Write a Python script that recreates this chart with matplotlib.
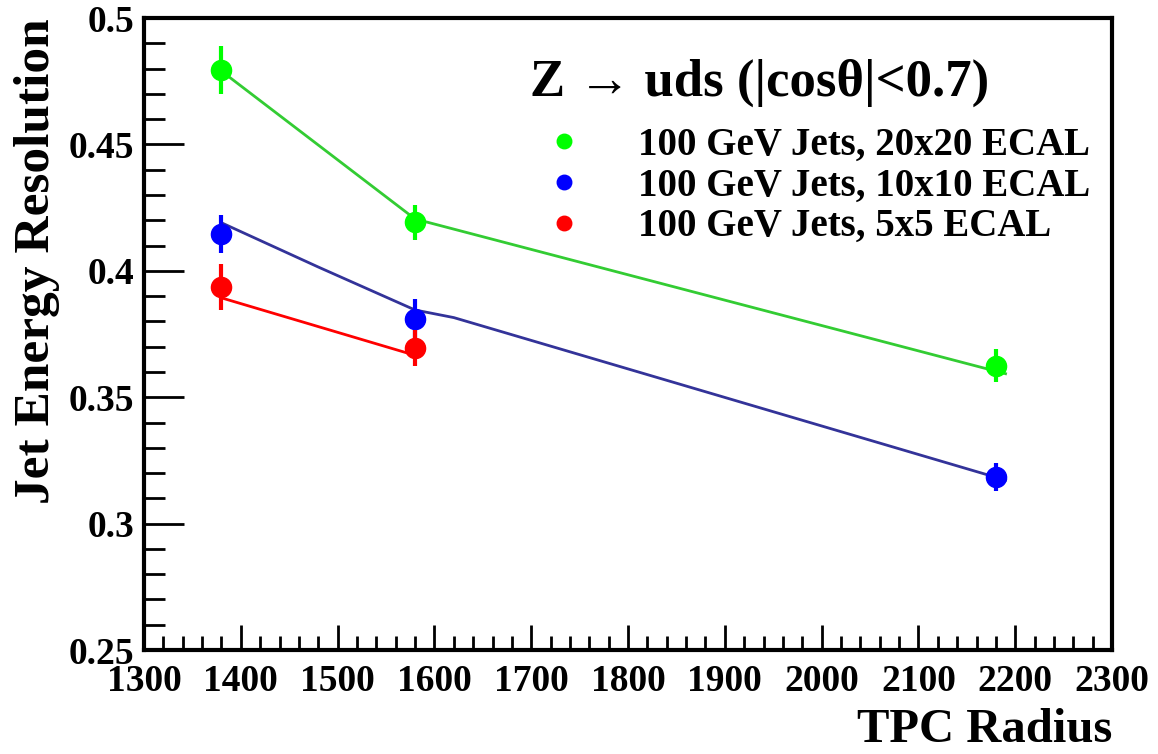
import matplotlib
matplotlib.use("Agg")
import matplotlib.pyplot as plt
from matplotlib.ticker import MultipleLocator

plt.rcParams['font.family'] = ['Liberation Serif', 'DejaVu Serif']
plt.rcParams['font.weight'] = 'bold'

# TPC radius of each measurement
radius_20 = [1380, 1580, 2180]
radius_10 = [1380, 1580, 2180]
radius_5 = [1380, 1580]

# jet energy resolution and errors
res_20 = [0.4795, 0.4192, 0.3624]
err_20 = [0.0095, 0.0070, 0.0065]
res_10 = [0.4146, 0.3810, 0.3185]
err_10 = [0.0075, 0.0080, 0.0055]
res_5 = [0.3937, 0.3695]
err_5 = [0.0090, 0.0070]

# fit curves
fit_x_20 = [1380, 1580, 1600, 2190]
fit_y_20 = [0.4790, 0.4205, 0.4185, 0.3593]
fit_x_10 = [1380, 1480, 1580, 1620, 2190]
fit_y_10 = [0.4190, 0.4015, 0.3845, 0.3815, 0.3172]
fit_x_5 = [1380, 1578]
fit_y_5 = [0.3893, 0.3668]

labels = ["100 GeV Jets, 20x20 ECAL", "100 GeV Jets, 10x10 ECAL", "100 GeV Jets, 5x5 ECAL"]
xticks = [1300, 1400, 1500, 1600, 1700, 1800, 1900, 2000, 2100, 2200, 2300]
yticks = [0.25, 0.3, 0.35, 0.4, 0.45, 0.5]

fig = plt.figure(figsize=(11.58, 7.54), dpi=100)
ax = fig.add_axes([0.1244, 0.1379, 0.8359, 0.8382])

# fit lines
ax.plot(fit_x_20, fit_y_20, color="#33cc33", lw=2)
ax.plot(fit_x_10, fit_y_10, color="#333399", lw=2)
ax.plot(fit_x_5, fit_y_5, color="#ff0000", lw=2)

series = [(radius_20, res_20, err_20, "#00ff00"),
          (radius_10, res_10, err_10, "#0000ff"),
          (radius_5, res_5, err_5, "#ff0000")]
handles = []
for (x, y, e, c), lab in zip(series, labels):
    ax.errorbar(x, y, yerr=e, fmt="none", ecolor=c, elinewidth=3, capsize=0)
    h, = ax.plot(x, y, "o", color=c, markersize=14.5, label=lab)
    handles.append(h)

ax.set_xlim(1300, 2300)
ax.set_ylim(0.25, 0.5)

# ROOT-like ticks
ax.xaxis.set_minor_locator(MultipleLocator(20))
ax.yaxis.set_minor_locator(MultipleLocator(0.01))
ax.tick_params(axis="both", which="both", direction="in", top=False, right=False)
ax.tick_params(axis="x", which="major", length=18, width=2, labelsize=27, pad=10)
ax.tick_params(axis="x", which="minor", length=10, width=2)
ax.tick_params(axis="y", which="major", length=29, width=2, labelsize=27, pad=7)
ax.tick_params(axis="y", which="minor", length=15, width=2)
ax.set_xticks(xticks)
ax.set_xticklabels([str(v) for v in xticks])
ax.set_yticks(yticks)
ax.set_yticklabels([f"{v:g}" for v in yticks])
for s in ax.spines.values():
    s.set_linewidth(3)

fig.text(1112 / 1158, 12 / 754, "TPC Radius", fontsize=35, fontweight="bold",
         ha="right", va="baseline")
fig.text(37 / 1158, 1 - 18 / 754, "Jet Energy Resolution", fontsize=37, fontweight="bold",
         rotation=90, ha="center", va="top")

ax.text(0.399, 0.898, "Z \u2192 uds (|cos\u03b8|<0.7)", transform=ax.transAxes,
        fontsize=38, fontweight="bold", va="center", ha="left")

leg = ax.legend(handles=handles, loc="upper left", bbox_to_anchor=(0.398, 0.853),
                frameon=False, fontsize=28, markerscale=0.72, handlelength=1.0,
                handletextpad=1.4, labelspacing=0.1, borderaxespad=0)

fig.savefig("out.png", dpi=100)
